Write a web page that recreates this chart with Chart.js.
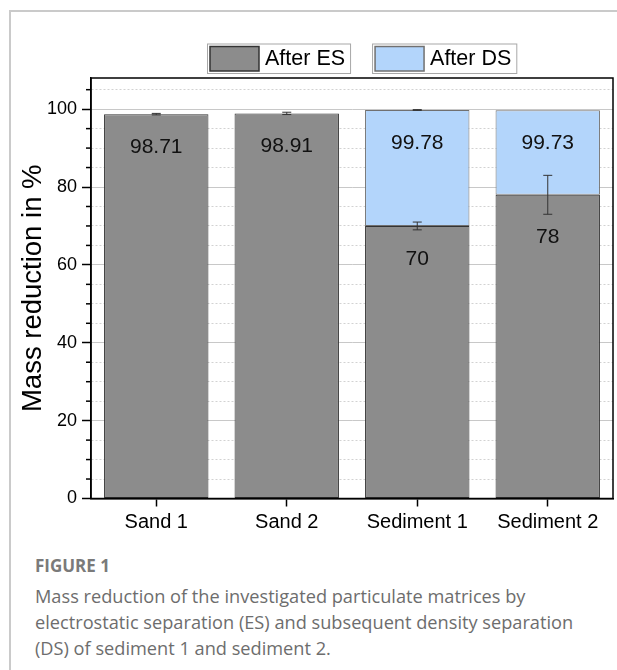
<!DOCTYPE html>
<html>
<head>
<meta charset="utf-8">
<script src="https://cdn.jsdelivr.net/npm/chart.js@4.4.1/dist/chart.umd.min.js"></script>
<style>
  html, body { margin: 0; padding: 0; background: #fff; }
  body { width: 617px; height: 670px; position: relative; overflow: hidden; }
  .frame { position: absolute; left: 9px; top: 10px; right: -10px; bottom: -10px;
           border-left: 2px solid #cacaca; border-top: 2px solid #cacaca; }
  #wrap { position: absolute; left: 0; top: 0; width: 617px; height: 545px; }
  .cap { position: absolute; left: 35px; font-family: "Open Sans", sans-serif; color: #6d6d6d; }
  .cap.head { top: 554px; font-size: 17px; font-weight: 700; color: #7a7a7a; }
  .cap.body { top: 583px; font-size: 18.2px; line-height: 26px; }
</style>
</head>
<body>
<div class="frame"></div>
<div id="wrap"><canvas id="chart"></canvas></div>
<div class="cap head">FIGURE 1</div>
<div class="cap body">Mass reduction of the investigated particulate matrices by<br>electrostatic separation (ES) and subsequent density separation<br>(DS) of sediment 1 and sediment 2.</div>

<script>
// ── Data ───────────────────────────────────────────
const categories = ['Sand 1', 'Sand 2', 'Sediment 1', 'Sediment 2'];
const afterES    = [98.71, 98.91, 70, 78];
const afterESErr = [0.2, 0.3, 1, 5];
const afterDS    = [null, null, 99.78, 99.73];   // total after ES + DS
const afterDSErr = [null, null, 0.1, null];
const yLabels    = [0, 20, 40, 60, 80, 100];

const FONT = '"Liberation Sans", Arial, sans-serif';
const isMajor = c => c.tick && c.tick.value % 20 === 0;

// ── Extra drawing: box, minor ticks, error bars, value labels, legend ──
const decor = {
  id: 'decor',
  afterDatasetsDraw(chart) {
    const { ctx, chartArea: a, scales: { y } } = chart;
    ctx.save();

    // minor ticks on y
    ctx.strokeStyle = '#000';
    ctx.lineWidth = 1.5;
    y.ticks.forEach(t => {
      if (t.value % 20 === 0) return;
      const py = y.getPixelForValue(t.value);
      ctx.beginPath(); ctx.moveTo(a.left - 5, py); ctx.lineTo(a.left, py); ctx.stroke();
    });

    // frame round the plot
    ctx.strokeRect(a.left, a.top, a.right - a.left, a.bottom - a.top);

    // error bars + labels
    const series = [[0, afterES, afterESErr], [1, afterDS, afterDSErr]];
    series.forEach(([di, vals, errs]) => {
      const meta = chart.getDatasetMeta(di);
      meta.data.forEach((bar, i) => {
        const v = vals[i];
        if (v == null) return;
        const e = errs[i] || 0;
        const pTop = y.getPixelForValue(v);
        const pLo  = y.getPixelForValue(v - e);
        if (e) {
          const pHi = y.getPixelForValue(v + e);
          ctx.strokeStyle = '#333';
          ctx.lineWidth = 1;
          ctx.beginPath();
          ctx.moveTo(bar.x, pHi); ctx.lineTo(bar.x, pLo);
          ctx.moveTo(bar.x - 4.5, pHi); ctx.lineTo(bar.x + 4.5, pHi);
          ctx.moveTo(bar.x - 4.5, pLo); ctx.lineTo(bar.x + 4.5, pLo);
          ctx.stroke();
        }
        ctx.fillStyle = '#111';
        ctx.font = '21px ' + FONT;
        ctx.textAlign = 'center';
        ctx.textBaseline = 'middle';
        ctx.fillText(String(v), bar.x, Math.max(pTop + 33, pLo + 23));
      });
    });
    ctx.restore();
  },
  afterDraw(chart) {
    const ctx = chart.ctx;
    ctx.save();
    ctx.font = '21.5px ' + FONT;
    ctx.textBaseline = 'middle';
    ctx.textAlign = 'left';
    let x = 207;
    const top = 43.5, h = 29.5;
    chart.data.datasets.forEach(ds => {
      const tw = ctx.measureText(ds.label).width;
      const w = 3 + 49 + 6 + tw + 5;
      ctx.strokeStyle = '#a8a8a8'; ctx.lineWidth = 1;
      ctx.strokeRect(x + 0.5, top + 0.5, w, h);
      ctx.fillStyle = ds.backgroundColor;
      ctx.fillRect(x + 3, top + 3, 49, h - 5);
      ctx.strokeStyle = ds.borderColor; ctx.lineWidth = 1.5;
      ctx.strokeRect(x + 3, top + 3, 49, h - 5);
      ctx.fillStyle = '#000';
      ctx.fillText(ds.label, x + 58, top + h / 2 + 1);
      x += w + 22;
    });
    ctx.restore();
  }
};

new Chart(document.getElementById('chart'), {
  type: 'bar',
  data: {
    labels: categories,
    datasets: [
      {
        label: 'After ES',
        data: afterES,
        backgroundColor: '#8c8c8c',
        borderColor: '#333333',
        borderWidth: 1,
        borderSkipped: false,
        categoryPercentage: 0.8,
        barPercentage: 1
      },
      {
        label: 'After DS',
        data: afterDS.map((v, i) => v == null ? null : +(v - afterES[i]).toFixed(2)),
        backgroundColor: '#b3d5fb',
        borderColor: '#707070',
        borderWidth: 1,
        borderSkipped: false,
        categoryPercentage: 0.8,
        barPercentage: 1
      }
    ]
  },
  options: {
    responsive: true, maintainAspectRatio: false,
    animation: false,
    layout: { padding: { top: 78, right: 4, left: 0, bottom: 0 } },
    plugins: { legend: { display: false }, tooltip: { enabled: false } },
    scales: {
      x: {
        stacked: true,
        afterFit: s => { s.height = 46.5; },
        grid: { drawOnChartArea: false, offset: false, tickLength: 8, tickWidth: 1.5, tickColor: '#000' },
        border: { color: '#000', width: 1.5 },
        ticks: { color: '#000', font: { family: FONT, size: 20 }, padding: 4 }
      },
      y: {
        stacked: true,
        min: 0, max: 108,
        afterFit: s => { s.width = 91; },
        grid: {
          color: c => isMajor(c) ? '#c8c8c8' : '#d2d2d2',
          lineWidth: 1,
          tickLength: 9,
          tickWidth: 1.5,
          tickColor: c => isMajor(c) ? '#000' : 'rgba(0,0,0,0)'
        },
        border: { color: '#000', width: 1.5, dash: c => isMajor(c) ? [] : [2, 2] },
        ticks: {
          stepSize: 5, maxTicksLimit: 100, autoSkip: false, includeBounds: false,
          color: '#000', font: { family: FONT, size: 18 }, padding: 5,
          callback: v => yLabels.includes(v) ? String(v) : ''
        },
        title: {
          display: true, text: 'Mass reduction in %', color: '#000',
          font: { family: FONT, size: 27.5 }, padding: { top: 17, bottom: 0 }
        }
      }
    }
  },
  plugins: [decor]
});
</script>
</body>
</html>
